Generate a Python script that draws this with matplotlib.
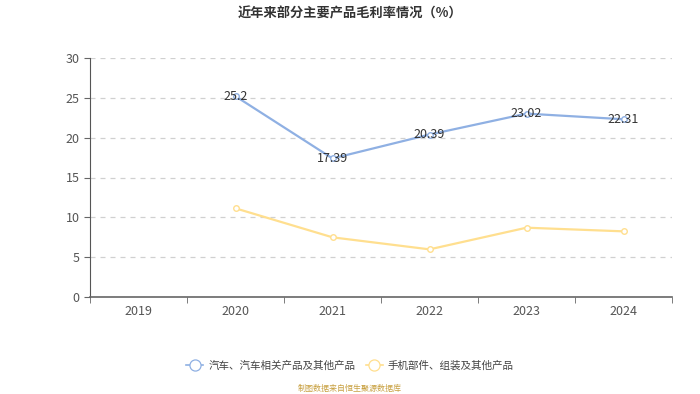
import matplotlib.pyplot as plt
import numpy as np

plt.rcParams['font.family'] = ['Noto Sans CJK SC', 'DejaVu Sans']

years = ['2019', '2020', '2021', '2022', '2023', '2024']
auto_margin = [np.nan, 25.2, 17.39, 20.39, 23.02, 22.31]
phone_margin = [np.nan, 11.13, 7.49, 5.98, 8.70, 8.24]

blue = '#8FB0E3'
yellow = '#FFDF8F'

fig = plt.figure(figsize=(7, 3.94), dpi=100)
ax = fig.add_axes([90 / 700, 97 / 394, 582 / 700, 239 / 394])

x = np.arange(len(years))
ax.plot(x, auto_margin, color=blue, lw=1.6, marker='o', ms=4,
        mfc='white', mec=blue, mew=1, label='汽车、汽车相关产品及其他产品', zorder=3)
ax.plot(x, phone_margin, color=yellow, lw=1.6, marker='o', ms=4,
        mfc='white', mec=yellow, mew=1, label='手机部件、组装及其他产品', zorder=3)

for xi, v in zip(x, auto_margin):
    if not np.isnan(v):
        ax.text(xi, v, f'{v:g}', ha='center', va='center', fontsize=9,
                color='#333333', zorder=4)

ax.set_xlim(-0.5, len(years) - 0.5)
ax.set_ylim(0, 30)
ax.set_yticks([0, 5, 10, 15, 20, 25, 30])
ax.set_xticks(x)
ax.set_xticklabels(years)
ax.set_xticks(np.arange(-0.5, len(years)), minor=True)
ax.tick_params(axis='x', which='major', length=0, pad=6, labelsize=9, labelcolor='#555555')
ax.tick_params(axis='x', which='minor', length=4, color='#666666')
ax.tick_params(axis='y', length=4, color='#666666', labelsize=9, labelcolor='#555555')

ax.grid(axis='y', linestyle=(0, (4, 4)), color='#d0d0d0', lw=0.9)
for s in ['top', 'right']:
    ax.spines[s].set_visible(False)
ax.spines['left'].set_color('#555555')
ax.spines['bottom'].set_color('#666666')
ax.spines['bottom'].set_linewidth(1.2)

fig.text(0.5, 0.965, '近年来部分主要产品毛利率情况（%）', ha='center', va='center',
         fontsize=9.5, fontweight='bold', color='#333333')

leg = fig.legend(loc='center', bbox_to_anchor=(0.5, 1 - 366 / 394), ncol=2, frameon=False,
                 fontsize=7.6, handlelength=1.6, handletextpad=0.5, columnspacing=1.0,
                 labelcolor='#444444', markerscale=2.0)
for h in leg.legend_handles:
    h.set_linewidth(1.2)
    h.set_markeredgewidth(0.9)

fig.text(0.5, 1 - 388 / 394, '制图数据来自恒生聚源数据库', ha='center', va='center',
         fontsize=5.8, color='#C8A040')

fig.savefig('out.png', dpi=100)
